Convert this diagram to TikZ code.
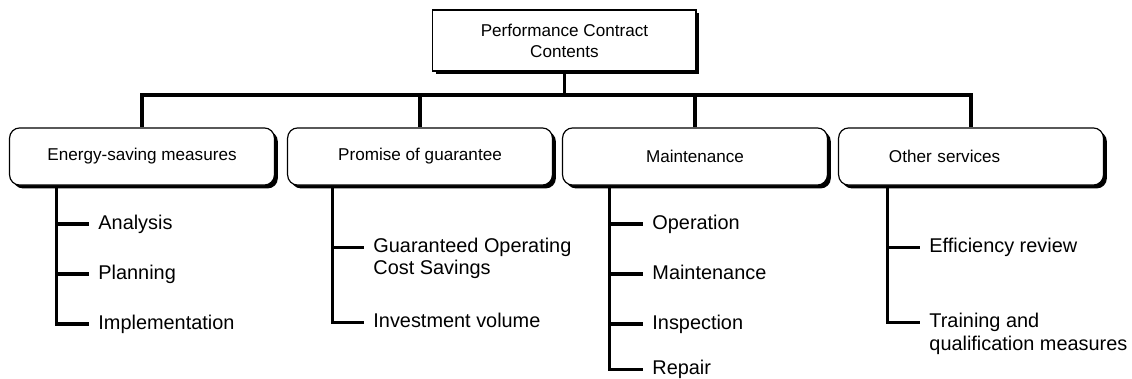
\documentclass[tikz,border=0pt]{standalone}
\usepackage{fontspec}
\setmainfont{Liberation Sans}
\usepackage{tikz}
\usetikzlibrary{shadows}

\begin{document}
\begin{tikzpicture}[
    topbox/.style={draw, line width=0.6pt, fill=white, align=center,
      minimum width=4.65cm, minimum height=1.08cm,
      font=\fontsize{8.6}{10.5}\selectfont,
      drop shadow={shadow xshift=1.7pt, shadow yshift=-1.7pt, fill=black, opacity=1}},
    groupbox/.style={topbox, rounded corners=0.18cm, minimum width=4.68cm, minimum height=1.01cm},
    item/.style={anchor=base west, inner xsep=0.16cm, align=left,
      font=\fontsize{10}{11.2}\selectfont},
    link/.style={line width=1.6pt}
  ]
    \useasboundingbox (0,0) rectangle (20,6.696);

    %Caja superior
    \node[topbox] (contract) at (9.973,5.981) {Performance Contract\\Contents};

    %Las cuatro cajas del segundo nivel
    \node[groupbox] (energy) at (2.509,3.931) {Energy-saving measures};
    \node[groupbox] (promise) at (7.421,3.931) {Promise of guarantee};
    \node[groupbox] (maint) at (12.279,3.931) {Maintenance};
    % el texto de esta caja no va centrado
    \node[groupbox, text width=2.9cm, inner xsep=0.88cm, align=left] (other) at (17.156,3.931) {Other services};

    %Linea horizontal que une todo
    \coordinate (bus) at (0,5.018);
    \draw[link] (contract.south) -- (contract.south |- bus) -| (energy.north);
    \draw[link] (contract.south) -- (contract.south |- bus) -| (promise.north);
    \draw[link] (contract.south) -- (contract.south |- bus) -| (maint.north);
    \draw[link] (contract.south) -- (contract.south |- bus) -| (other.north);

    %Lista bajo Energy-saving measures
    \node[item] (analysis) at (1.572,2.647) {Analysis};
    \node[item] (planning) at (1.572,1.763) {Planning};
    \node[item] (implem) at (1.572,0.880) {Implementation};
    \draw[link] ([xshift=0.838cm]energy.south west) |- ([yshift=2.6pt]analysis.base west);
    \draw[link] ([xshift=0.838cm]energy.south west) |- ([yshift=2.6pt]planning.base west);
    \draw[link] ([xshift=0.838cm]energy.south west) |- ([yshift=2.6pt]implem.base west);

    %Lista bajo Promise of guarantee
    % (base es la ultima linea, la raya va a la primera)
    \node[item] (guarant) at (6.431,1.838) {Guaranteed Operating\\Cost Savings};
    \node[item] (invest) at (6.431,0.906) {Investment volume};
    \draw[link] ([xshift=0.802cm]promise.south west) |- ([yshift=13.8pt]guarant.base west);
    \draw[link] ([xshift=0.802cm]promise.south west) |- ([yshift=2.6pt]invest.base west);

    %Lista bajo Maintenance
    \node[item] (operation) at (11.360,2.647) {Operation};
    \node[item] (upkeep) at (11.360,1.763) {Maintenance};
    \node[item] (inspect) at (11.360,0.880) {Inspection};
    \node[item] (repair) at (11.360,0.074) {Repair};
    \draw[link] ([xshift=0.838cm]maint.south west) |- ([yshift=2.6pt]operation.base west);
    \draw[link] ([xshift=0.838cm]maint.south west) |- ([yshift=2.6pt]upkeep.base west);
    \draw[link] ([xshift=0.838cm]maint.south west) |- ([yshift=2.6pt]inspect.base west);
    \draw[link] ([xshift=0.838cm]maint.south west) |- ([yshift=2.6pt]repair.base west);

    %Lista bajo Other services
    \node[item] (review) at (16.254,2.232) {Efficiency review};
    \node[item] (training) at (16.254,0.512) {Training and\\qualification measures};
    \draw[link] ([xshift=0.873cm]other.south west) |- ([yshift=2.6pt]review.base west);
    \draw[link] ([xshift=0.873cm]other.south west) |- ([yshift=13.8pt]training.base west);
\end{tikzpicture}
\end{document}
